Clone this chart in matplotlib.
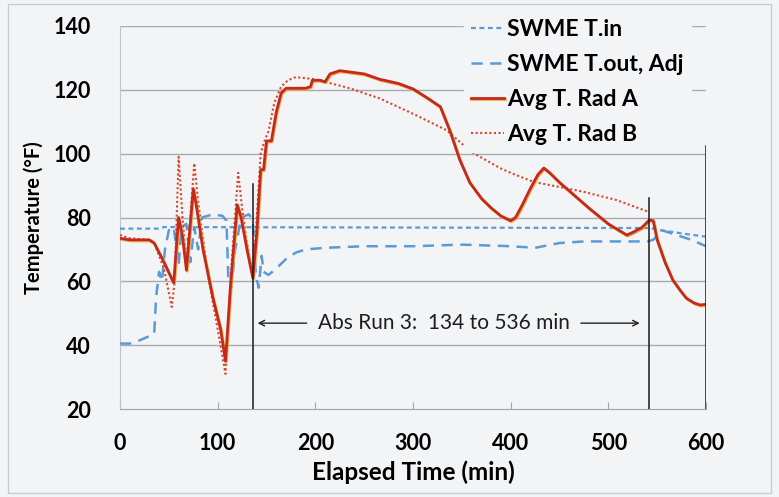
import matplotlib
matplotlib.use("Agg")
import matplotlib.pyplot as plt
import matplotlib.patheffects as pe
from matplotlib.patches import Rectangle

plt.rcParams['font.family'] = ['Lato', 'DejaVu Sans']

# ---- data ----
tin_x = [0, 40, 45, 50, 540, 546, 553, 565, 580, 600]
tin_y = [76.5, 76.5, 77, 77, 76.7, 76.5, 76, 75.5, 74.8, 74]

tout_x = [0, 10, 20, 35, 37, 40, 43, 46, 50, 55, 60, 63, 68, 72, 76, 80, 84, 95,
          105, 109, 111, 114, 118, 124, 132, 136, 139, 142, 145, 147, 152, 160,
          170, 180, 190, 210, 250, 300, 350, 400, 425, 450, 475, 500, 540, 546,
          555, 570, 585, 600]
tout_y = [40.5, 40.5, 41.5, 43.5, 55, 63, 60, 70, 76, 77, 65, 77, 78, 66, 77, 70,
          80, 81, 80.5, 79, 60, 58, 70, 80, 81, 79, 62, 58, 68, 63, 62, 64,
          67, 69, 70, 70.5, 71, 71, 71.5, 71, 70.5, 72, 72.5, 72.5, 72.5, 73,
          76, 74.5, 73, 71]

radA_x = [0, 10, 30, 35, 45, 55, 60, 64, 68, 75, 78, 85, 95, 103, 108, 113, 120,
          124, 130, 136, 140, 144, 147, 150, 155, 160, 165, 170, 190, 195, 197,
          205, 210, 215, 225, 250, 266, 285, 300, 317, 328, 338, 348, 358, 370,
          380, 390, 400, 405, 412, 420, 428, 434, 440, 450, 465, 480, 500, 519,
          526, 534, 542, 546, 550, 558, 566, 574, 580, 588, 594, 600]
radA_y = [73.5, 73, 73, 72, 66, 59.5, 80, 74, 63.5, 89, 84, 70, 55, 45, 35, 58, 84,
          80, 70, 61, 75, 95, 95, 104, 104, 113, 119, 120.5, 120.5, 121, 123,
          123, 122.5, 125, 126, 125, 123.3, 122, 120.3, 117, 114.7, 107, 98, 91, 86,
          83, 80.5, 79, 80, 84, 89, 93.5, 95.5, 94, 91, 87, 83, 78, 74.5,
          75.5, 76.8, 79.2, 79, 73, 66, 60.4, 57, 54.7, 53.2, 52.6, 52.8]

radB_x = [0, 10, 30, 35, 45, 53, 56, 60, 64, 68, 72, 76, 80, 90, 100, 108, 113,
          121, 125, 130, 136, 140, 144, 148, 152, 158, 165, 172, 180, 200, 235,
          266, 300, 334, 360, 389, 400, 423, 474, 508, 541]
radB_y = [74.5, 73.5, 73, 72, 64, 52, 60, 99, 80, 66, 80, 97, 85, 62, 45, 31, 60,
          94, 83, 72, 62, 80, 100, 104, 107, 116, 121, 123, 124, 123.3, 120.5,
          117.3, 112.5, 107.4, 100.5, 95.5, 94, 91.2, 88.1, 85.5, 81.8]

vlines_x = [136.5, 541.5, 600]
vlines_top = [90.5, 86, 102.5]

xticks = [0, 100, 200, 300, 400, 500, 600]
yticks = [20, 40, 60, 80, 100, 120, 140]

# ---- figure ----
bg = '#f3f4f6'
fig = plt.figure(figsize=(7.79, 4.97), dpi=100, facecolor=bg)
ax = fig.add_axes([120/779, 1-409/497, 586/779, 383/497])
ax.set_facecolor(bg)
ax.set_xlim(0, 600)
ax.set_ylim(20, 140)

blue = '#5a9bd5'
red = '#c42a1c'

for yv in yticks[1:]:
    ax.axhline(yv, color='#a7abb6', lw=1.0, zorder=1)

ax.plot(tin_x, tin_y, color=blue, lw=1.6, ls=(0, (2.2, 1.6)), label='SWME T.in', zorder=3)
ax.plot(tout_x, tout_y, color=blue, lw=1.8, ls=(0, (4.5, 3)), label='SWME T.out, Adj', zorder=3)
ax.plot(radA_x, radA_y, color=red, lw=2.0, label='Avg T. Rad A', zorder=5,
        path_effects=[pe.SimpleLineShadow(offset=(0.6, -0.8), shadow_color='#f0a43a', alpha=0.9),
                      pe.Normal()])
ax.plot(radB_x, radB_y, color='#d8452c', lw=1.5, ls=(0, (1, 1.2)), label='Avg T. Rad B', zorder=4)

for vx, vt in zip(vlines_x, vlines_top):
    ax.plot([vx, vx], [20, vt], color='#1a1a1a', lw=1.1, zorder=6)

ax.annotate('', xy=(138, 46.9), xytext=(194, 46.9),
            arrowprops=dict(arrowstyle='->', color='#222222', lw=1.0))
ax.annotate('', xy=(535, 46.9), xytext=(469, 46.9),
            arrowprops=dict(arrowstyle='->', color='#222222', lw=1.0))
ax.text(331.5, 46.9, 'Abs Run 3:  134 to 536 min', ha='center', va='center',
        fontsize=15, color='#1e1e1e')

for s in ['top', 'right']:
    ax.spines[s].set_visible(False)
ax.spines['left'].set_color('#c0c3ca')
ax.spines['bottom'].set_color('#a0a4ae')
ax.set_xticks(xticks)
ax.set_yticks(yticks)
ax.tick_params(axis='x', direction='in', length=5, color='#a0a4ae', labelsize=15.5, pad=17)
ax.tick_params(axis='y', length=0, labelsize=15.5, pad=21)
for lab in ax.get_xticklabels() + ax.get_yticklabels():
    lab.set_fontweight('bold')
ax.set_xlabel('Elapsed Time (min)', fontsize=17.5, fontweight='bold')
ax.set_ylabel('Temperature (°F)', fontsize=14.5, fontweight='bold')
ax.xaxis.set_label_coords(0.5, (409-472)/383)
ax.xaxis.label.set_va('center')
ax.yaxis.set_label_coords((34-120)/586, 0.5)
ax.yaxis.label.set_va('center')

leg = ax.legend(loc='upper left', bbox_to_anchor=(352/600, 1.035), frameon=True,
                prop={'size': 16.5, 'weight': 'bold'}, handlelength=1.45,
                handletextpad=0.15, labelspacing=0.6,
                borderpad=0.3, borderaxespad=0)
leg.get_frame().set_facecolor(bg)
leg.get_frame().set_edgecolor(bg)
leg.get_frame().set_alpha(1)
leg.set_zorder(7)

fig.patches.append(Rectangle((8/779, 4/497), 763/779, 489/497, transform=fig.transFigure,
                             fill=False, edgecolor='#c9ccd2', lw=1))

fig.savefig('out.png', dpi=100, facecolor=bg)
